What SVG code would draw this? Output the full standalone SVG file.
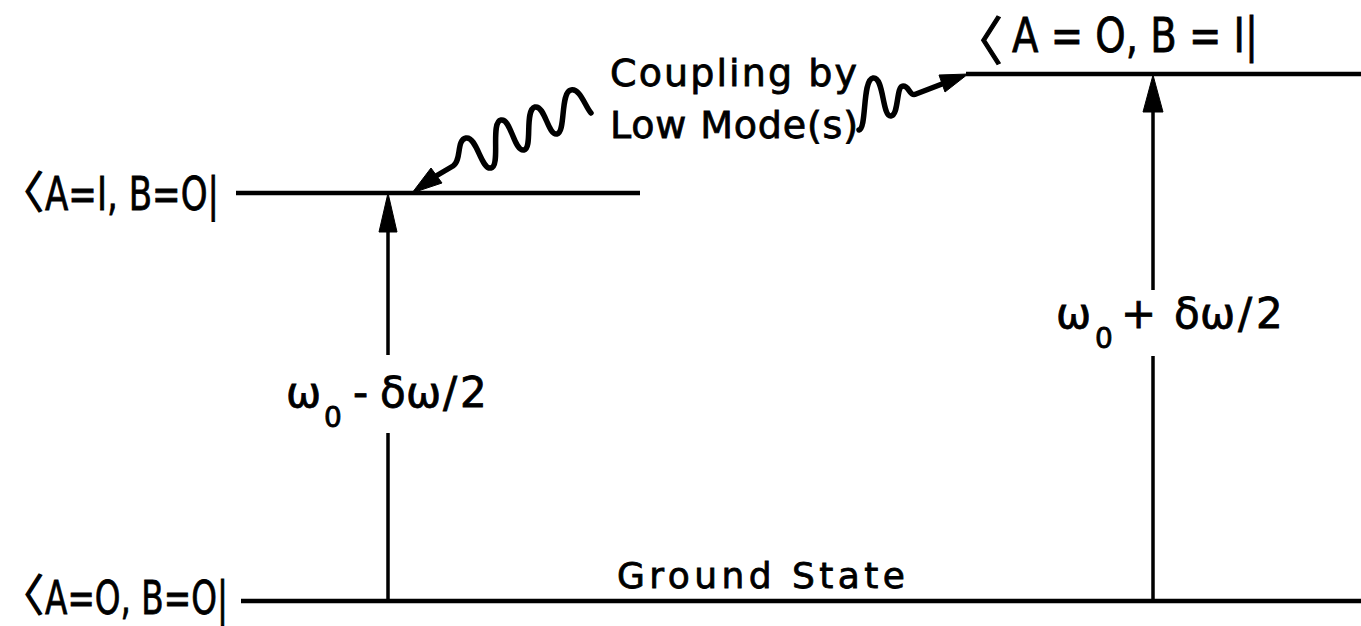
<svg xmlns="http://www.w3.org/2000/svg" width="1361" height="626" viewBox="0 0 1361 626">
<defs>
<style>
.t{font-family:"DejaVu Sans","Liberation Sans",sans-serif;fill:#000;stroke:#000;stroke-width:0.8}
.cjk{font-family:"Noto Sans CJK JP","Noto Sans CJK SC",sans-serif;stroke-width:1.2}
.lvl{stroke:#000;stroke-width:4.5;fill:none}
.ax{stroke:#000;stroke-width:3.5;fill:none}
.wv{stroke:#000;stroke-width:5.5;fill:none;stroke-linecap:round;stroke-linejoin:round}
.hd{fill:#000;stroke:#000;stroke-width:1;stroke-linejoin:round}
</style>
</defs>
<rect width="1361" height="626" fill="#fff"/>
<g id="level-top">
<line class="lvl" x1="966" y1="74" x2="1361" y2="74"/>
<text class="t"><tspan class="cjk" x="951" y="60" font-size="52">〈</tspan><tspan x="1012" y="52" font-size="48" textLength="246" lengthAdjust="spacingAndGlyphs">A = O, B = I|</tspan></text>
</g>
<g id="level-mid">
<line class="lvl" x1="236" y1="193" x2="640" y2="193"/>
<text class="t"><tspan class="cjk" x="0" y="208" font-size="44">〈</tspan><tspan x="45" y="210" font-size="46" textLength="174" lengthAdjust="spacingAndGlyphs">A=I, B=O|</tspan></text>
</g>
<g id="level-ground">
<line class="lvl" x1="241" y1="601" x2="1361" y2="601"/>
<text class="t"><tspan class="cjk" x="0" y="611" font-size="44">〈</tspan><tspan x="45" y="614" font-size="46" textLength="183" lengthAdjust="spacingAndGlyphs">A=O, B=O|</tspan></text>
<text class="t" x="617" y="588" font-size="36" textLength="288" lengthAdjust="spacing">Ground State</text>
</g>
<g id="coupling-label">
<text class="t" x="610" y="86" font-size="38" textLength="247" lengthAdjust="spacing">Coupling by</text>
<text class="t" x="610" y="138" font-size="38" textLength="248" lengthAdjust="spacing">Low Mode(s)</text>
</g>
<g id="label-left">
<text class="t" font-size="42" y="407"><tspan x="286">ω</tspan><tspan x="324" y="427" font-size="28">0</tspan><tspan x="353" y="407">-</tspan><tspan x="380">δ</tspan><tspan x="406">ω</tspan><tspan x="443">/</tspan><tspan x="460">2</tspan></text>
</g>
<g id="label-right">
<text class="t" font-size="42" y="328"><tspan x="1056">ω</tspan><tspan x="1095" y="348" font-size="28">0</tspan><tspan x="1121" y="328">+</tspan><tspan x="1174">δ</tspan><tspan x="1200">ω</tspan><tspan x="1238">/</tspan><tspan x="1256">2</tspan></text>
</g>
<g id="connectors">
<path class="ax" d="M388,601 V433 M388,355 V200"/>
<path class="hd" d="M388,193 L379,232 L397,232 z"/>
<path class="ax" d="M1153,601 V356 M1153,290 V82"/>
<path class="hd" d="M1153,75 L1143,112 L1163,112 z"/>
<path class="wv" d="M436,176 L453,166 C462,160 456,140 466,138 C477,136 481,170 491,168 C501,166 490,122 501,120 C511,118 514,152 524,150 C533,148 524,110 535,107 C545,105 548,136 557,134 C566,132 560,92 571,90 C580,88 585,106 591,113"/>
<path class="hd" d="M412,193 L431,168 L442,183 z"/>
<path class="wv" d="M859,130 C867,128 862,80 873,78 C884,76 882,117 891,116 C899,115 896,86 903,86 C910,86 909,97 916,94 L942,84"/>
<path class="hd" d="M968,74 L939,75 L945,92 z"/>
</g>
</svg>
